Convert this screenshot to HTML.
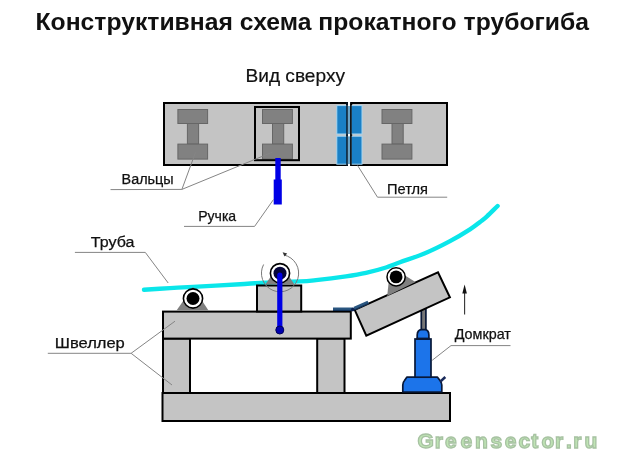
<!DOCTYPE html>
<html><head><meta charset="utf-8">
<style>
html,body{margin:0;padding:0;background:#fff;}
svg{display:block;will-change:transform;}
text{font-family:"Liberation Sans",sans-serif;}
</style></head>
<body>
<svg width="630" height="461" viewBox="0 0 630 461">
<rect x="0" y="0" width="630" height="461" fill="#ffffff"/>

<!-- Title -->
<text x="35.5" y="29.5" font-size="24.8" font-weight="bold" fill="#111" textLength="553.5" lengthAdjust="spacingAndGlyphs">Конструктивная схема прокатного трубогиба</text>
<text x="245.5" y="82.2" font-size="18.4" fill="#111" stroke="#111" stroke-width="0.2" textLength="99.5" lengthAdjust="spacingAndGlyphs">Вид сверху</text>

<!-- ===== TOP VIEW ===== -->
<g id="top">
  <rect x="164" y="103" width="183" height="62" fill="#c4c4c4" stroke="#000" stroke-width="2"/>
  <rect x="351.2" y="103" width="95.8" height="62" fill="#c4c4c4" stroke="#000" stroke-width="2"/>
  <rect x="348" y="101" width="2.2" height="66" fill="#fff"/>
  <!-- blue hinge pieces -->
  <g fill="#1a80c6" stroke="#a6d6f2" stroke-width="1">
    <rect x="336.8" y="105.6" width="10.6" height="28.4"/>
    <rect x="336.8" y="136.2" width="10.6" height="28"/>
    <rect x="351" y="105.6" width="11" height="28.4"/>
    <rect x="351" y="136.2" width="11" height="28"/>
  </g>
  <rect x="347.6" y="106" width="2.8" height="28" fill="#6aa4c8"/>
  <rect x="347.6" y="136.4" width="2.8" height="27.6" fill="#6aa4c8"/>
  <line x1="347" y1="102.2" x2="347" y2="166" stroke="#06182a" stroke-width="1.5"/>
  <line x1="350.9" y1="102.2" x2="350.9" y2="166" stroke="#000" stroke-width="1.5"/>
  <!-- I beams -->
  <g fill="#818181" stroke="#666" stroke-width="1">
    <rect x="177.9" y="109.5" width="29.7" height="14"/>
    <rect x="187.4" y="123.5" width="11.2" height="20.6"/>
    <rect x="177.9" y="144.1" width="29.7" height="15"/>

    <rect x="262.5" y="109.5" width="29.9" height="14"/>
    <rect x="272.5" y="123.5" width="11.2" height="20.6"/>
    <rect x="262.5" y="144.1" width="29.9" height="15"/>

    <rect x="382" y="109.5" width="29.9" height="14"/>
    <rect x="392" y="123.5" width="11.2" height="20.6"/>
    <rect x="382" y="144.1" width="29.9" height="15"/>
  </g>
  <rect x="255" y="107" width="44" height="53.2" fill="none" stroke="#000" stroke-width="2"/>
  <!-- handle -->
  <rect x="275.3" y="158" width="5.4" height="22" fill="#0000e6"/>
  <rect x="273.7" y="179.5" width="8.1" height="25" fill="#0000e6"/>
</g>



<g fill="#111" stroke="#111" stroke-width="0.25">
  <text x="121.6" y="183.7" font-size="14" textLength="52" lengthAdjust="spacingAndGlyphs">Вальцы</text>
  <text x="198.2" y="220.5" font-size="14.3" textLength="38" lengthAdjust="spacingAndGlyphs">Ручка</text>
  <text x="387" y="193.9" font-size="15.1" textLength="41" lengthAdjust="spacingAndGlyphs">Петля</text>
  <text x="90.8" y="247.1" font-size="15.5" textLength="43.6" lengthAdjust="spacingAndGlyphs">Труба</text>
  <text x="54.8" y="347.8" font-size="14" textLength="70" lengthAdjust="spacingAndGlyphs">Швеллер</text>
  <text x="454.7" y="339.4" font-size="14.3" textLength="56.2" lengthAdjust="spacingAndGlyphs">Домкрат</text>
</g>

<!-- ===== SIDE VIEW ===== -->
<!-- tube -->
<path d="M144.0,289.8 C148.3,289.5 161.8,288.6 170.0,288.1 C178.2,287.6 181.3,287.5 193.0,286.9 C204.7,286.3 229.7,284.9 240.0,284.3 C250.3,283.7 245.0,283.7 255.0,283.2 C265.0,282.7 289.8,281.9 300.0,281.4 C310.2,280.9 308.3,280.9 316.0,280.1 C323.7,279.3 337.7,277.6 346.0,276.4 C354.3,275.2 359.3,274.4 366.0,272.9 C372.7,271.4 380.3,269.3 386.0,267.5 C391.7,265.7 393.5,264.7 400.0,262.3 C406.5,259.9 416.7,256.7 425.0,253.2 C433.3,249.7 442.5,245.1 450.0,241.1 C457.5,237.1 465.0,232.5 470.0,229.3 C475.0,226.1 477.2,224.2 480.0,222.0 C482.8,219.8 484.1,219.0 487.0,216.3 C489.9,213.6 495.8,207.7 497.6,206.0" fill="none" stroke="#0ae6ea" stroke-width="4.4" stroke-linecap="round"/>

<!-- frame -->
<g fill="#c4c4c4" stroke="#000" stroke-width="2">
  <rect x="162.5" y="393" width="287.5" height="28"/>
  <rect x="163" y="338.5" width="27" height="54.5"/>
  <rect x="317.2" y="338.5" width="27.3" height="54.5"/>
  <rect x="163" y="311.6" width="187.8" height="27"/>
  <rect x="257" y="285.5" width="44.2" height="26"/>
</g>

<!-- supports -->
<g fill="#808080">
  <polygon points="176.5,310.5 208.5,310.5 193,287"/>
  <polygon points="265.3,284.5 294.5,284.5 280,263"/>
</g>

<!-- left roller -->
<circle cx="193" cy="298.5" r="9.6" fill="#fff" stroke="#000" stroke-width="1.6"/>
<circle cx="193" cy="298.5" r="6.5" fill="#000"/>

<!-- middle roller + arc -->
<path d="M263.6,264.5 A18.6,18.6 0 1 0 283.9,255" fill="none" stroke="#7a7a7a" stroke-width="1"/>
<polygon points="282.6,252.2 287.2,253.4 284.6,256.6" fill="#333"/>
<circle cx="280" cy="273.2" r="9.6" fill="#fff" stroke="#000" stroke-width="1.6"/>
<circle cx="280" cy="273.2" r="6.5" fill="#06063a"/>
<line x1="279.8" y1="275" x2="279.8" y2="330" stroke="#0000e6" stroke-width="5.2" stroke-linecap="round"/>
<circle cx="279.8" cy="330" r="4" fill="#0000b0" stroke="#00005a" stroke-width="1"/>

<!-- jack -->
<g stroke="#081838" stroke-width="1.7">
  <rect x="421.3" y="305" width="4.6" height="25" fill="#767676"/>
  <path d="M402.8,392 L402.8,385 Q403,382 404.5,380.5 L406.8,377.2 L437.5,377.2 L440.2,380.8 Q441.8,382.5 441.8,385 L441.8,392 Z" fill="#1c74ea" stroke-linejoin="round"/>
  <rect x="415" y="339" width="16" height="38.2" fill="#1c74ea"/>
  <path d="M417.2,339 L417.2,335 Q417.4,329.8 421.5,329.6 L424.9,329.6 Q428.8,329.8 428.9,335 L428.9,339 Z" fill="#1c74ea"/>
</g>
<line x1="416.5" y1="338.6" x2="429.5" y2="338.6" stroke="#081838" stroke-width="2"/>
<line x1="440.3" y1="381.6" x2="445.3" y2="377" stroke="#1a2a5a" stroke-width="2.6"/>

<!-- tilted beam -->
<polygon points="354.7,309.8 438.0,272.3 449.9,297.3 366.3,335.6" fill="#c4c4c4" stroke="#000" stroke-width="2" stroke-linejoin="miter"/>
<!-- right roller support -->
<polygon points="387.2,296 388.6,283 396.2,276.9 405,275.5 415.5,282" fill="#808080"/>
<circle cx="396.1" cy="276.9" r="9.1" fill="#fff" stroke="#000" stroke-width="1.5"/>
<circle cx="396.1" cy="276.9" r="6.4" fill="#000"/>

<!-- hinge side view -->
<path d="M333,309.2 L353,309.2" stroke="#2a5680" stroke-width="3.4"/>
<path d="M333,310.4 L353,310.4" stroke="#0e2a50" stroke-width="1"/>
<path d="M354,308.6 L368.2,302.2" stroke="#2a5680" stroke-width="3.4"/>
<path d="M354.5,309.8 L368.6,303.4" stroke="#0e2a50" stroke-width="1"/>
<circle cx="352.8" cy="309.6" r="1.8" fill="#0a2050"/>

<!-- jack arrow -->
<line x1="464.6" y1="292" x2="464.6" y2="314.5" stroke="#333" stroke-width="1.1"/>
<polygon points="464.6,284.5 462.3,293.5 466.9,293.5" fill="#111"/>

<!-- leader lines -->
<g stroke="#858585" stroke-width="1" fill="none">
  <polyline points="110.5,189.6 181.9,189.4 195.5,152.4"/>
  <line x1="181.9" y1="189.4" x2="272.6" y2="152.1"/>
  <polyline points="184,226.4 254.6,226.4 273.5,199.5"/>
  <polyline points="447.2,197.2 377.5,197.2 357.6,165.5"/>
  <polyline points="74.9,252.4 145.3,252.4 168.2,283"/>
  <polyline points="47.8,353.3 131.1,353.3 175,321.2"/>
  <line x1="131.1" y1="353.3" x2="172" y2="385"/>
  <polyline points="510.5,345.6 451,345.6 432.2,360.3"/>
</g>

<!-- watermark -->
<text x="417.6 434.8 445 460.6 475.1 490.4 504.8 518.5 531.2 541.5 555 566 573.2 584.4" y="447.6" font-size="21" font-weight="bold" fill="#bfe4b4" stroke="#a7c2a2" stroke-width="1.3">Greensector.ru</text>
</svg>
</body></html>
